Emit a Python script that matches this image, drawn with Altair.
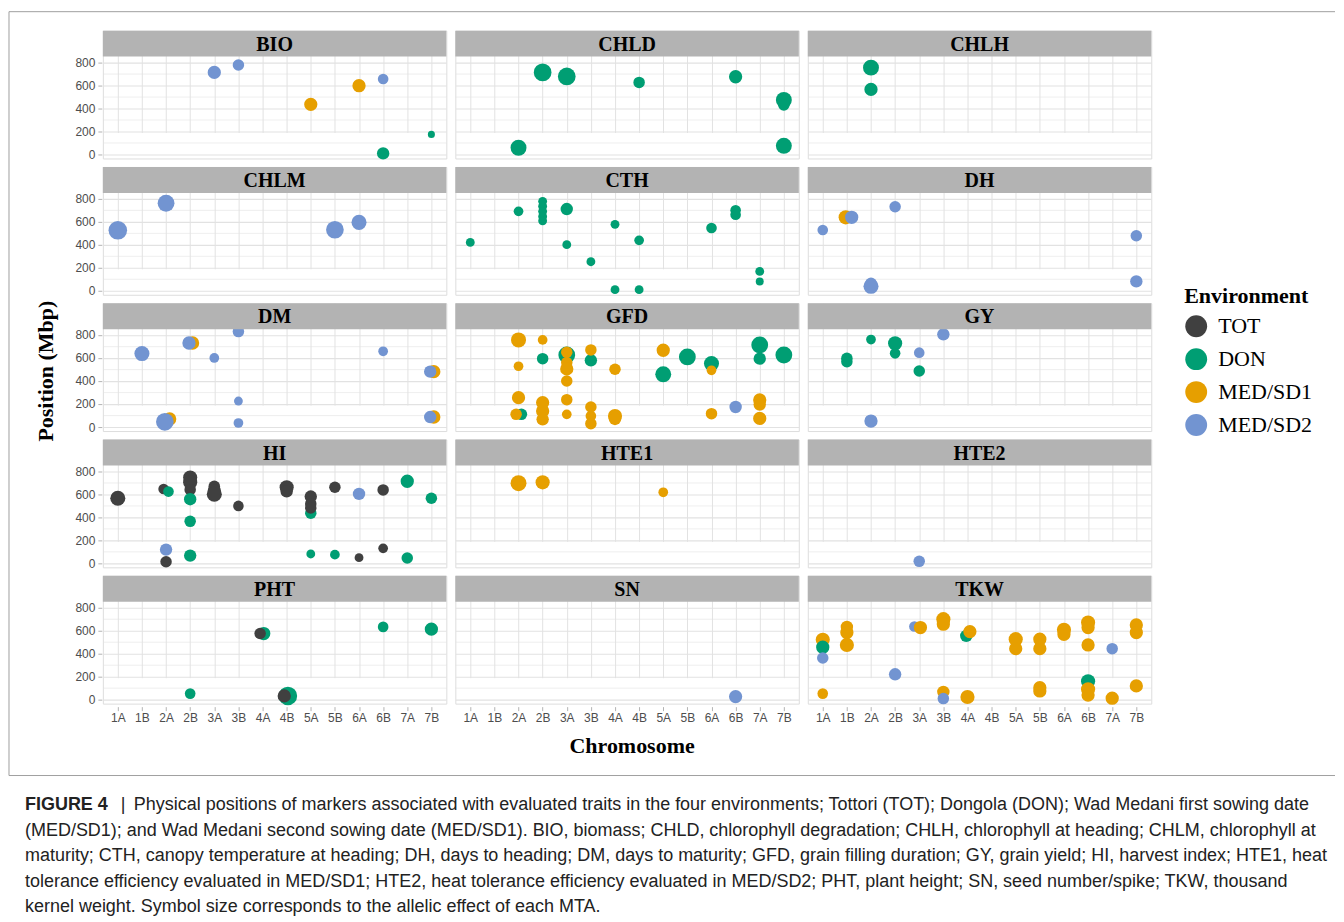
import altair as alt
import pandas as pd

CHROMS = ["1A", "1B", "2A", "2B", "3A", "3B", "4A", "4B", "5A", "5B", "6A", "6B", "7A", "7B"]
ENVS = ["TOT", "DON", "MED/SD1", "MED/SD2"]
ENV_CODE = {"T": "TOT", "D": "DON", "O": "MED/SD1", "B": "MED/SD2"}
COLORS = ["#404040", "#009E73", "#E69F00", "#7294D1"]
TRAIT_ORDER = ["BIO", "CHLD", "CHLH", "CHLM", "CTH", "DH", "DM", "GFD", "GY",
               "HI", "HTE1", "HTE2", "PHT", "SN", "TKW"]

# (chromosome, position Mbp, environment, allelic effect[, nudge])
BIO = [("3A", 713, "B", 15), ("3B", 777, "B", 13), ("5A", 435, "O", 15), ("6A", 597, "O", 15),
       ("6B", 655, "B", 12), ("7B", 174, "D", 8), ("6B", 9, "D", 14)]
CHLD = [("2B", 713, "D", 20), ("3A", 678, "D", 20), ("4B", 626, "D", 13), ("6B", 675, "D", 15),
        ("7B", 473, "D", 18), ("7B", 430, "D", 13), ("2A", 58, "D", 18), ("7B", 75, "D", 18)]
CHLH = [("2A", 754, "D", 18), ("2A", 565, "D", 15)]
CHLM = [("1A", 525, "B", 21), ("2A", 760, "B", 19), ("5B", 530, "B", 20), ("6A", 594, "B", 17)]
CTH = [("1A", 420, "D", 10), ("2A", 690, "D", 11), ("2B", 777, "D", 10), ("2B", 735, "D", 10),
       ("2B", 690, "D", 10), ("2B", 645, "D", 10), ("2B", 608, "D", 10), ("3A", 710, "D", 14),
       ("3A", 400, "D", 10), ("3B", 252, "D", 10), ("4A", 577, "D", 10), ("4A", 9, "D", 10),
       ("4B", 438, "D", 11), ("4B", 9, "D", 10), ("6A", 545, "D", 12), ("6B", 699, "D", 12),
       ("6B", 661, "D", 12), ("7A", 168, "D", 10), ("7A", 81, "D", 9)]
DH = [("1A", 528, "B", 12), ("1B", 638, "O", 16, -0.05), ("1B", 638, "B", 15, 0.2),
      ("2B", 730, "B", 13), ("2A", 65, "B", 13), ("2A", 38, "B", 17), ("7B", 478, "B", 13),
      ("7B", 81, "B", 14)]
DM = [("1B", 638, "B", 17), ("2B", 730, "O", 15, 0.1), ("2B", 730, "B", 15, -0.05),
      ("3A", 600, "B", 11), ("3B", 829, "B", 13), ("3B", 226, "B", 10), ("3B", 35, "B", 11),
      ("6B", 658, "B", 11), ("7B", 481, "O", 15, 0.1), ("7B", 481, "B", 14, -0.05),
      ("7B", 87, "O", 15, 0.1), ("7B", 87, "B", 14, -0.05), ("2A", 70, "O", 15, 0.15),
      ("2A", 45, "B", 20, -0.05)]
GFD = [("2A", 757, "O", 17), ("2B", 757, "O", 11), ("2B", 594, "D", 13), ("3A", 626, "D", 19),
       ("3A", 650, "O", 13), ("3A", 560, "O", 13), ("3A", 505, "O", 15), ("3A", 400, "O", 13),
       ("3B", 580, "D", 14), ("3B", 670, "O", 13), ("2A", 528, "O", 11), ("4A", 502, "O", 13),
       ("5A", 667, "O", 15), ("5A", 458, "D", 18), ("5B", 609, "D", 19), ("6A", 551, "D", 17),
       ("6A", 493, "O", 11), ("7A", 713, "D", 19), ("7A", 594, "D", 14), ("7B", 626, "D", 19),
       ("2A", 255, "O", 15), ("2A", 110, "D", 13, 0.12), ("2A", 110, "O", 13, -0.1),
       ("2B", 212, "O", 15), ("2B", 139, "O", 15), ("2B", 67, "O", 14), ("3A", 238, "O", 13),
       ("3A", 110, "O", 11), ("3B", 174, "O", 13), ("3B", 96, "O", 12), ("3B", 29, "O", 13),
       ("4A", 96, "O", 16), ("4A", 70, "O", 14), ("6A", 116, "O", 13), ("6B", 174, "B", 14),
       ("7A", 235, "O", 15), ("7A", 195, "O", 14), ("7A", 75, "O", 15)]
GY = [("1B", 597, "D", 13), ("1B", 568, "D", 13), ("2A", 760, "D", 11), ("2B", 728, "D", 16),
      ("2B", 640, "D", 12), ("3A", 646, "B", 12), ("3A", 487, "D", 13), ("3B", 806, "B", 14),
      ("2A", 52, "B", 15)]
HI = [("1A", 565, "T", 17), ("2A", 646, "T", 12, -0.1), ("2A", 623, "D", 12, 0.1),
      ("2B", 745, "T", 16), ("2B", 705, "T", 16), ("2B", 640, "T", 13), ("2B", 557, "D", 14),
      ("2B", 365, "D", 13), ("2B", 67, "D", 14), ("3A", 670, "T", 13), ("3A", 630, "T", 15),
      ("3A", 600, "T", 17), ("3B", 499, "T", 12), ("4B", 660, "T", 16), ("4B", 625, "T", 14),
      ("5A", 435, "D", 13), ("5A", 580, "T", 14), ("5A", 516, "T", 13), ("5A", 481, "T", 13),
      ("5B", 661, "T", 13), ("6A", 603, "B", 14), ("6B", 638, "T", 13), ("7A", 713, "D", 15),
      ("7B", 565, "D", 13), ("2A", 119, "B", 14), ("2A", 14, "T", 13), ("5A", 81, "D", 10),
      ("5B", 75, "D", 11), ("6A", 49, "T", 10), ("6B", 130, "T", 11), ("7A", 46, "D", 13)]
HTE1 = [("2A", 696, "O", 18), ("2B", 704, "O", 16), ("5A", 617, "O", 11)]
HTE2 = [("3A", 17, "B", 13)]
PHT = [("2B", 52, "D", 12), ("4A", 574, "D", 15, 0.05), ("4A", 574, "T", 13, -0.1),
       ("4B", 32, "D", 21, 0.05), ("4B", 32, "T", 15, -0.1), ("6B", 632, "D", 12),
       ("7B", 612, "D", 15)]
SN = [("6B", 26, "B", 15)]
TKW = [("1A", 520, "O", 16), ("1A", 455, "D", 15), ("1A", 362, "B", 13), ("1A", 52, "O", 12),
       ("1B", 632, "O", 14), ("1B", 583, "O", 15), ("1B", 475, "O", 16),
       ("3A", 635, "B", 12, -0.2), ("3A", 626, "O", 15, 0.05), ("3B", 699, "O", 16),
       ("3B", 655, "O", 15), ("4A", 554, "D", 14, -0.05), ("4A", 591, "O", 15, 0.1),
       ("5A", 525, "O", 16), ("5A", 443, "O", 15), ("5B", 525, "O", 15), ("5B", 443, "O", 15),
       ("6A", 606, "O", 16), ("6A", 568, "O", 15), ("6B", 670, "O", 16), ("6B", 626, "O", 15),
       ("6B", 475, "O", 15), ("7A", 443, "B", 13), ("7B", 649, "O", 15), ("7B", 583, "O", 15),
       ("2B", 220, "B", 14), ("3B", 67, "O", 14), ("3B", 9, "B", 13), ("4A", 23, "O", 16),
       ("5B", 104, "O", 15), ("5B", 75, "O", 15), ("6B", 159, "D", 16), ("6B", 90, "O", 16),
       ("6B", 40, "O", 15), ("7A", 12, "O", 15), ("7B", 119, "O", 15)]

TRAITS = {"BIO": BIO, "CHLD": CHLD, "CHLH": CHLH, "CHLM": CHLM, "CTH": CTH, "DH": DH,
          "DM": DM, "GFD": GFD, "GY": GY, "HI": HI, "HTE1": HTE1, "HTE2": HTE2,
          "PHT": PHT, "SN": SN, "TKW": TKW}

CAPTION = [
    "Physical positions of markers associated with evaluated traits in the four environments; Tottori (TOT); Dongola (DON); Wad Medani first sowing date",
    "(MED/SD1); and Wad Medani second sowing date (MED/SD1). BIO, biomass; CHLD, chlorophyll degradation; CHLH, chlorophyll at heading; CHLM, chlorophyll at",
    "maturity; CTH, canopy temperature at heading; DH, days to heading; DM, days to maturity; GFD, grain filling duration; GY, grain yield; HI, harvest index; HTE1, heat",
    "tolerance efficiency evaluated in MED/SD1; HTE2, heat tolerance efficiency evaluated in MED/SD2; PHT, plant height; SN, seed number/spike; TKW, thousand",
    "kernel weight. Symbol size corresponds to the allelic effect of each MTA.",
]

rows = []
for trait, pts in TRAITS.items():
    for p in pts:
        chrom, pos, env, eff = p[:4]
        nudge = p[4] if len(p) > 4 else 0.0
        rows.append({"trait": trait, "chrom": chrom, "x": CHROMS.index(chrom) + nudge,
                     "pos": pos, "env": ENV_CODE[env], "effect": eff})
df = pd.DataFrame(rows)

W, H, STRIP = 344, 128, 26
SERIF = "Liberation Serif"
SANS = "Liberation Sans"
label_expr = "[" + ",".join("'%s'" % c for c in CHROMS) + "][datum.value]"
major = "datum.value % 200 == 0"

points = alt.Chart().mark_circle(opacity=1, stroke=None).encode(
    x=alt.X("x:Q", scale=alt.Scale(domain=[-0.62, 13.62], nice=False, zero=False),
            axis=alt.Axis(values=list(range(14)), labelExpr=label_expr, title=None, grid=True,
                          gridColor="#e2e2e2", gridWidth=1, domain=False, tickColor="#b3b3b3",
                          tickSize=4, labelFont=SANS, labelFontSize=12, labelColor="#4d4d4d",
                          labelPadding=2)),
    y=alt.Y("pos:Q", scale=alt.Scale(domain=[-35, 850], range=[H, STRIP], nice=False, zero=False),
            axis=alt.Axis(values=list(range(0, 801, 100)),
                          labelExpr="%s ? datum.label : ''" % major, title=None, grid=True,
                          gridColor="#e2e2e2",
                          gridWidth={"condition": {"test": major, "value": 1.1}, "value": 0.6},
                          tickOpacity={"condition": {"test": major, "value": 1}, "value": 0},
                          domain=False, tickColor="#b3b3b3", tickSize=4, labelFont=SANS,
                          labelFontSize=12, labelColor="#4d4d4d", labelPadding=3)),
    color=alt.Color("env:N", scale=alt.Scale(domain=ENVS, range=COLORS),
                    legend=alt.Legend(title="Environment", orient="none", legendX=1172,
                                      legendY=256, titleFont=SERIF, titleFontSize=22,
                                      titleFontWeight="bold", titleColor="black", labelFont=SERIF,
                                      labelFontSize=22, labelColor="black", symbolSize=480,
                                      symbolType="circle", rowPadding=10, titlePadding=6,
                                      labelOffset=10)),
    size=alt.Size("effect:Q", scale=alt.Scale(type="pow", exponent=2, domain=[0, 22],
                                              range=[0, 380]), legend=None),
)

strip_base = alt.Chart().transform_aggregate(n="count()", groupby=["trait"])
strip_rect = strip_base.mark_rect(color="#b3b3b3").encode(
    x=alt.value(0), x2=alt.value(W), y=alt.value(0), y2=alt.value(STRIP))
strip_text = strip_base.mark_text(font=SERIF, fontWeight="bold", fontSize=20, color="black",
                                  baseline="middle").encode(
    text="trait:N", x=alt.value(W / 2), y=alt.value(STRIP / 2 + 1))

panels = alt.layer(points, strip_rect, strip_text, data=df).properties(
    width=W, height=H).facet(
    facet=alt.Facet("trait:N", sort=TRAIT_ORDER, title=None,
                    header=alt.Header(title=None, labels=False, labelExpr="''",
                                      labelFontSize=1, labelPadding=0)),
    columns=3, spacing={"row": 3.5, "column": 7})

# frame, axis titles (decorations drawn beside the panels)
one = pd.DataFrame({"t": ["x"]})
BORDER = "#a0a0a0"
side = alt.layer(
    alt.Chart(one).mark_rule(color=BORDER, strokeWidth=1).encode(
        x=alt.value(-5), x2=alt.value(1323), y=alt.value(-19)),
    alt.Chart(one).mark_rule(color=BORDER, strokeWidth=1).encode(
        x=alt.value(-5), y=alt.value(-19), y2=alt.value(746)),
    alt.Chart(one).mark_rule(color=BORDER, strokeWidth=1).encode(
        x=alt.value(-5), x2=alt.value(1323), y=alt.value(746)),
    alt.Chart(one).mark_text(angle=270, font=SERIF, fontWeight="bold", fontSize=22,
                             color="black", baseline="middle").encode(
        text=alt.value("Position (Mbp)"), x=alt.value(32), y=alt.value(341)),
    alt.Chart(one).mark_text(font=SERIF, fontWeight="bold", fontSize=22, color="black",
                             baseline="middle").encode(
        text=alt.value("Chromosome"), x=alt.value(619), y=alt.value(716)),
).properties(width=81, height=600, view=alt.ViewBackground(stroke=None))

top = alt.hconcat(side, panels, spacing=8, bounds="flush")

cap_layers = [
    alt.Chart(one).mark_text(font=SANS, fontWeight="bold", fontSize=18, color="#222222",
                             align="left", baseline="middle").encode(
        text=alt.value("FIGURE 4"), x=alt.value(11), y=alt.value(25)),
    alt.Chart(one).mark_text(font=SANS, fontSize=18, color="#222222", align="left",
                             baseline="middle").encode(
        text=alt.value("|"), x=alt.value(107), y=alt.value(25)),
]
for i, line in enumerate(CAPTION):
    cap_layers.append(
        alt.Chart(one).mark_text(font=SANS, fontSize=18, color="#222222", align="left",
                                 baseline="middle").encode(
            text=alt.value(line), x=alt.value(120 if i == 0 else 11), y=alt.value(25 + i * 25.5)))
caption = alt.layer(*cap_layers).properties(width=1290, height=135,
                                            view=alt.ViewBackground(stroke=None))

chart = alt.vconcat(top, caption, spacing=4).properties(
    padding={"left": 0, "top": 2, "right": 0, "bottom": 0}
).configure_view(stroke="#b3b3b3", strokeWidth=1).configure(background="white")

chart.save("out.html", embed_options={"renderer": "svg", "actions": False})
